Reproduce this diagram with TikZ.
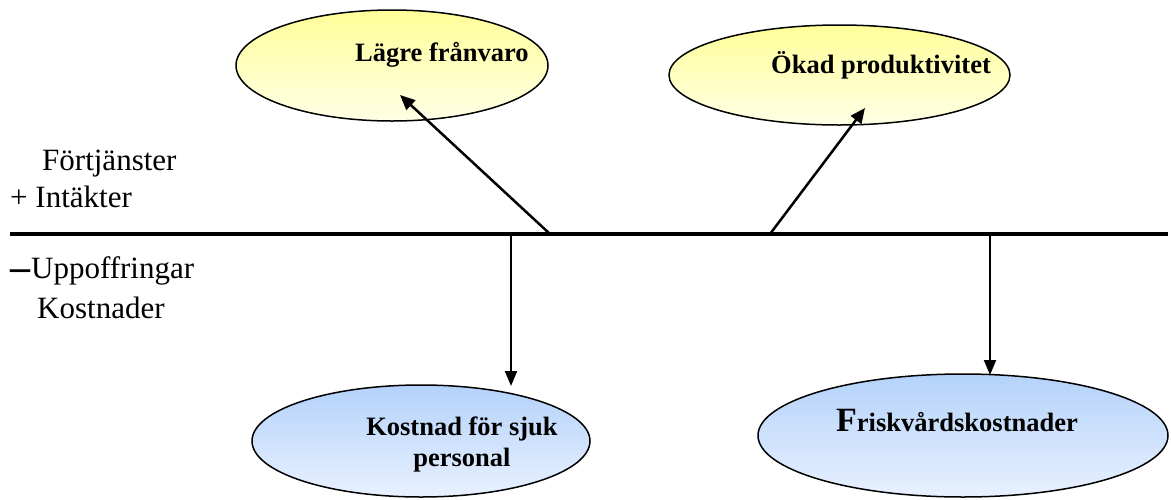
\documentclass[tikz,border=0pt]{standalone}
\usepackage{fontspec}
\setmainfont{Liberation Serif}
\usetikzlibrary{shapes.geometric,arrows.meta}
\definecolor{ytop}{HTML}{FFFF99}
\definecolor{ybot}{HTML}{FFFFE6}
\definecolor{btop}{HTML}{B4D2FA}
\definecolor{bbot}{HTML}{E8F1FF}
\tikzset{
  oval/.style={ellipse,draw=black,line width=1.5pt,inner sep=0pt},
  gain/.style={oval,top color=ytop,bottom color=ybot},
  cost/.style={oval,top color=btop,bottom color=bbot},
  lbl/.style={font=\fontsize{31}{36}\selectfont,anchor=base west,inner sep=0pt},
  olbl/.style={font=\fontsize{26.5}{30}\selectfont\bfseries,inner sep=0pt,align=center},
  uparr/.style={line width=2.5pt,-{Triangle[length=15pt,width=13pt]}},
  dnarr/.style={line width=2pt,-{Triangle[length=15pt,width=12pt]}},
}
\begin{document}
\begin{tikzpicture}[x=1pt,y=-1pt]
\useasboundingbox (0,0) rectangle (1171,499);
% ellipses
\node[gain,minimum width=312pt,minimum height=111pt] (e1) at (392,65.5) {};
\node[gain,minimum width=341pt,minimum height=100pt] (e2) at (839.5,75) {};
\node[cost,minimum width=338pt,minimum height=112pt] (e3) at (421,441) {};
\node[cost,minimum width=410pt,minimum height=123pt] (e4) at (963,435.5) {};
% ellipse texts
\node[olbl,anchor=base west] (t1) at (355,61) {Lägre frånvaro};
\node[olbl,anchor=base west] (t2) at (771,73) {Ökad produktivitet};
\node[olbl,anchor=base] (t3a) at (462,435) {Kostnad för sjuk};
\node[olbl,anchor=base] (t3b) at (462,466) {personal};
\node[olbl,anchor=base west] (t4) at (836,431) {{\fontsize{34}{30}\selectfont F}riskvårdskostnader};
% axis
\coordinate (l0) at (10,234);
\coordinate (l1) at (1168,234);
\draw[line width=4.5pt] (l0) -- (l1);
% side labels
\node[lbl] (f1) at (42,170) {Förtjänster};
\node[lbl] (f2) at (10,207) {+ Intäkter};
\node[lbl] (f3) at (10,278) {\raisebox{-2pt}{\fontsize{40}{40}\selectfont\bfseries –}\kern1pt Uppoffringar};
\node[lbl] (f4) at (37,318) {Kostnader};
% arrows
\coordinate (a1s) at (550,234);
\coordinate (a1e) at (400,95);
\coordinate (a2s) at (770,234);
\coordinate (a2e) at (865,108);
\coordinate (a3s) at (511,236);
\coordinate (a3e) at (511,386);
\coordinate (a4s) at (990,236);
\coordinate (a4e) at (990,375);
\draw[uparr] (a1s) -- (a1e);
\draw[uparr] (a2s) -- (a2e);
\draw[dnarr] (a3s) -- (a3e);
\draw[dnarr] (a4s) -- (a4e);
\end{tikzpicture}
\end{document}
